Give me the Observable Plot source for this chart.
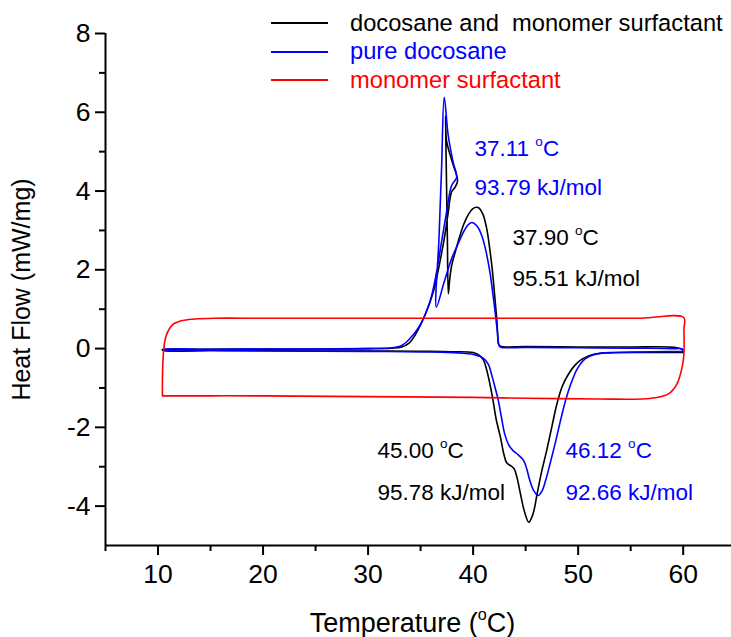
<!DOCTYPE html>
<html>
<head>
<meta charset="utf-8">
<script src="https://cdn.jsdelivr.net/npm/d3@7"></script>
<script src="https://cdn.jsdelivr.net/npm/@observablehq/plot@0.6"></script>
<style>
  body { margin: 0; background: #fff; }
  #wrap { position: relative; width: 731px; height: 637px; font-family: "Liberation Sans", Arial, sans-serif; }
  #legend { position: absolute; left: 271px; top: 9px; font-size: 23.7px; }
  .row { display: flex; align-items: center; height: 28.5px; white-space: pre; }
  .sw { width: 57px; height: 2px; margin-right: 22px; flex: none; }
</style>
</head>
<body>
<div id="wrap"><div id="legend"></div></div>
<script>
// ---- series ----
const seriesNames = ["docosane and  monomer surfactant", "pure docosane", "monomer surfactant"];
const seriesColors = ["#000000", "#0000ff", "#ff0000"];

// [Temperature (°C), Heat Flow (mW/mg)] in path order
const blackCurve = [
  [60.0,-0.10],[59.9,-0.02],[59.2,0.03],[55,0.04],[50,0.04],[45,0.05],[42.6,0.06],[42.42,0.12],[42.33,0.4],[42.25,0.75],
  [42.05,1.35],[41.85,1.94],[41.6,2.5],[41.3,3.04],[40.95,3.4],[40.6,3.56],[40.34,3.59],[39.95,3.55],[39.54,3.4],[39.1,3.15],
  [38.75,2.87],[38.3,2.45],[37.95,2.1],[37.75,1.7],[37.64,1.39],[37.55,2.8],[37.45,4.5],[37.38,5.91],[37.47,5.28],[38.0,4.75],
  [38.52,4.26],[38.26,4.09],[37.95,3.98],[37.6,3.4],[37.3,2.87],[36.83,2.19],[36.2,1.43],[35.4,0.84],[34.45,0.33],[33.9,0.14],
  [33.2,0.04],[32.2,0.01],[30,0.0],[25,-0.01],[20,-0.01],[15,-0.02],[11,-0.02],[10.4,-0.02],
  [10.5,-0.05],[15,-0.05],[20,-0.05],[25,-0.06],[30,-0.06],[35,-0.07],[38,-0.08],[40.0,-0.1],[40.6,-0.17],[41.0,-0.3],
  [41.3,-0.55],[41.6,-0.9],[41.9,-1.32],[42.2,-1.8],[42.6,-2.25],[42.9,-2.65],[43.2,-2.9],[43.6,-2.98],[43.9,-3.05],[44.2,-3.3],
  [44.5,-3.68],[44.9,-4.15],[45.3,-4.41],[45.7,-4.2],[46.1,-3.68],[46.5,-3.15],[47.0,-2.59],[47.5,-1.98],[47.98,-1.4],[48.5,-0.95],
  [49.1,-0.64],[49.7,-0.42],[50.4,-0.26],[51.6,-0.14],[53,-0.11],[56,-0.1],[60.0,-0.10]
];
const blueCurve = [
  [60.0,-0.07],[59.9,-0.01],[59.2,0.0],[55,0.01],[50,0.02],[45,0.03],[42.6,0.04],[42.45,0.1],[42.3,0.45],[42.1,0.92],
  [41.85,1.45],[41.6,1.94],[41.2,2.5],[40.82,2.87],[40.4,3.1],[39.86,3.2],[39.45,3.12],[39.07,2.95],[38.5,2.62],[37.95,2.28],
  [37.2,1.65],[36.5,1.05],[36.75,2.8],[37.0,4.6],[37.25,6.38],[37.63,5.41],[38.1,4.73],[38.43,4.35],[37.95,4.14],[37.47,3.46],
  [36.99,2.7],[36.52,1.94],[35.88,1.18],[34.92,0.58],[33.97,0.25],[33.2,0.08],[32.3,0.02],[30,0.0],[25,-0.01],[20,-0.01],
  [15,-0.02],[10.6,-0.02],
  [10.6,-0.04],[15,-0.05],[20,-0.06],[30,-0.07],[37,-0.09],[39,-0.12],[40.2,-0.16],[41.0,-0.25],[41.45,-0.4],[41.8,-0.7],
  [42.1,-1.0],[42.4,-1.32],[42.7,-1.75],[43.0,-2.16],[43.4,-2.45],[43.8,-2.59],[44.3,-2.7],[44.8,-2.84],[45.1,-3.05],[45.4,-3.35],
  [45.8,-3.62],[46.2,-3.73],[46.55,-3.62],[46.9,-3.35],[47.3,-2.95],[47.8,-2.42],[48.3,-1.85],[48.8,-1.32],[49.3,-0.9],[49.9,-0.52],
  [50.5,-0.3],[51.2,-0.18],[52.3,-0.11],[55,-0.09],[60.0,-0.07]
];
const redCurve = [
  [10.42,-1.2],[10.42,-0.8],[10.45,-0.45],[10.55,0.0],[10.7,0.25],[10.9,0.41],[11.2,0.55],[11.5,0.63],[12.0,0.69],[12.5,0.72],
  [13.5,0.75],[15.3,0.77],[20,0.77],[30,0.77],[40,0.77],[50,0.77],[56,0.77],[60.05,0.79],[60.07,0.5],[60.07,-0.13],
  [59.9,-0.47],[59.4,-0.9],[58.6,-1.15],[57.3,-1.25],[56.0,-1.28],[52,-1.28],[45,-1.26],[40,-1.24],[30,-1.22],[20,-1.2],
  [15,-1.2],[10.42,-1.2]
];

// ---- annotations ----
const annotText = ["37.11 °C", "93.79 kJ/mol", "37.90 °C", "95.51 kJ/mol", "45.00 °C", "95.78 kJ/mol", "46.12 °C", "92.66 kJ/mol"];
const annotT = [40.13, 40.13, 43.75, 43.75, 30.90, 30.90, 48.80, 48.80];
const annotH = [5.08, 4.09, 2.82, 1.78, -2.59, -3.65, -2.59, -3.65];
const annotSeries = [1, 1, 0, 0, 0, 0, 1, 1];

// ---- ticks ----
const xMajor = [10, 20, 30, 40, 50, 60];
const xMinor = [5, 15, 25, 35, 45, 55];
const yMajor = [-4, -2, 0, 2, 4, 6, 8];
const yMinor = [-3, -1, 1, 3, 5, 7];
const xLabel = "Temperature (°C)";
const yLabel = "Heat Flow (mW/mg)";

const annotations = annotText.map((t, i) => ({text: t, T: annotT[i], H: annotH[i], color: seriesColors[annotSeries[i]]}));
const curves = [blackCurve, blueCurve, redCurve];
const fmt = d => String(d);

const plot = Plot.plot({
  width: 731,
  height: 637,
  marginLeft: 105,
  marginRight: 0,
  marginTop: 33,
  marginBottom: 92,
  x: {domain: [5, 64.6]},
  y: {domain: [-5, 8]},
  style: {fontFamily: '"Liberation Sans", Arial, sans-serif', color: "#000", background: "#fff", overflow: "visible"},
  marks: [
    ...curves.map((c, i) => Plot.line(c, {x: d => d[0], y: d => d[1], stroke: seriesColors[i], strokeWidth: 1.6, curve: "catmull-rom"})),
    Plot.text(annotations, {x: "T", y: "H", text: "text", fill: "color", textAnchor: "start", fontSize: 22.5}),
    Plot.ruleX([5], {strokeWidth: 2}),
    Plot.ruleY([-5], {strokeWidth: 2}),
    Plot.axisY(yMajor, {tickSize: 10, tickPadding: 5, fontSize: 27, strokeWidth: 2, tickFormat: fmt, label: yLabel, labelAnchor: "center", labelArrow: "none", labelOffset: 93}),
    Plot.axisY(yMinor, {tickSize: 6, tickFormat: () => "", strokeWidth: 2, label: null}),
    Plot.axisX(xMajor, {tickSize: 10, tickPadding: 9, fontSize: 27, strokeWidth: 2, tickFormat: fmt, label: xLabel, labelAnchor: "center", labelArrow: "none", labelOffset: 86}),
    Plot.axisX(xMinor, {tickSize: 6, tickFormat: () => "", strokeWidth: 2, label: null})
  ]
});

// axis text sizes / shift
plot.querySelectorAll('g[aria-label="y-axis tick label"] text, g[aria-label="x-axis tick label"] text').forEach(t => { t.style.fontSize = "26.5px"; });
plot.querySelectorAll('g[aria-label="y-axis label"] text').forEach(t => { t.style.fontSize = "25px"; });
plot.querySelectorAll('g[aria-label="x-axis label"] text').forEach(t => { t.style.fontSize = "27px"; });
const xl = plot.querySelector('g[aria-label="x-axis label"]');
if (xl) {
  const tr = xl.getAttribute("transform") || "";
  xl.setAttribute("transform", "translate(-6,0) " + tr);
}

// superscript "o" for degree sign
plot.querySelectorAll("text").forEach(t => {
  if (t.children.length === 0 && t.textContent.includes("°")) {
    const [a, b] = t.textContent.split("°");
    t.textContent = "";
    t.appendChild(document.createTextNode(a));
    const o = document.createElementNS("http://www.w3.org/2000/svg", "tspan");
    o.setAttribute("font-size", "0.6em");
    o.setAttribute("dy", "-0.7em");
    o.textContent = "o";
    t.appendChild(o);
    const c = document.createElementNS("http://www.w3.org/2000/svg", "tspan");
    c.setAttribute("dy", "0.42em");
    c.textContent = b;
    t.appendChild(c);
  }
});

const wrap = document.getElementById("wrap");
wrap.insertBefore(plot, wrap.firstChild);
plot.style.position = "absolute";
plot.style.left = "0";
plot.style.top = "0";

const legend = document.getElementById("legend");
seriesNames.forEach((name, i) => {
  const row = document.createElement("div");
  row.className = "row";
  const sw = document.createElement("span");
  sw.className = "sw";
  sw.style.background = seriesColors[i];
  const tx = document.createElement("span");
  tx.textContent = name;
  tx.style.color = seriesColors[i];
  row.appendChild(sw);
  row.appendChild(tx);
  legend.appendChild(row);
});
</script>
</body>
</html>
